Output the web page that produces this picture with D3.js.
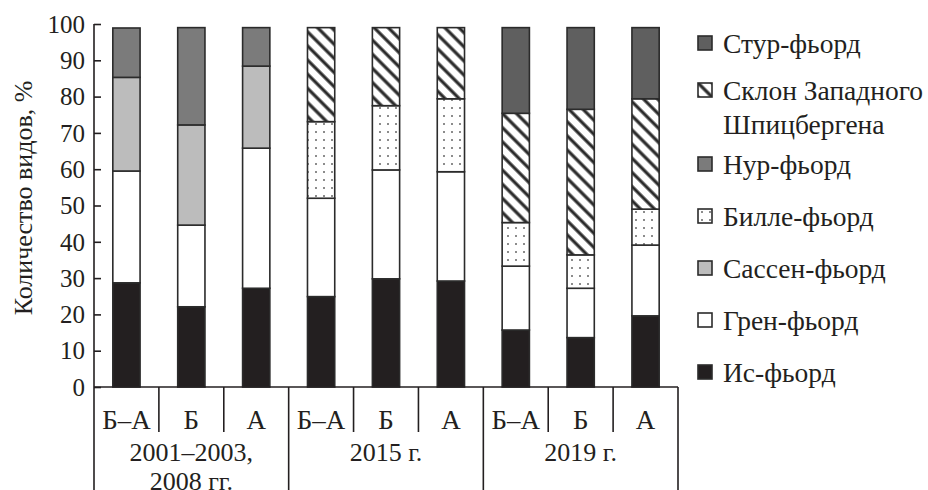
<!DOCTYPE html>
<html>
<head>
<meta charset="UTF-8">
<style>
  body { margin: 0; background: #fff; }
  svg text { font-family: "Liberation Serif", "Times New Roman", serif; fill: #231f20; }
</style>
</head>
<body>
<svg width="928" height="490"></svg>
<script src="https://cdn.jsdelivr.net/npm/d3@7"></script>
<script>

var periods = [["2001–2003,", "2008 гг."], ["2015 г."], ["2019 г."]];
var subgroups = ["Б–А", "Б", "А"];

var series = ["Ис-фьорд", "Грен-фьорд", "Сассен-фьорд", "Билле-фьорд",
              "Нур-фьорд", "Склон Западного Шпицбергена", "Стур-фьорд"];

var isFjord     = [28.7, 22.1, 27.2, 24.9, 29.8, 29.2, 15.7, 13.6, 19.6];
var grenFjord   = [30.8, 22.5, 38.6, 27.1, 30.0, 30.1, 17.6, 13.6, 19.5];
var sassenFjord = [25.8, 27.6, 22.6, 0, 0, 0, 0, 0, 0];
var billeFjord  = [0, 0, 0, 21.1, 17.7, 20.1, 12.0, 9.2, 9.9];
var nurFjord    = [13.6, 26.8, 10.6, 0, 0, 0, 0, 0, 0];
var sklon       = [0, 0, 0, 25.9, 21.5, 19.6, 30.1, 40.1, 30.4];
var sturFjord   = [0, 0, 0, 0, 0, 0, 23.6, 22.5, 19.6];

var yTicks = [0, 10, 20, 30, 40, 50, 60, 70, 80, 90, 100];

var values = [isFjord, grenFjord, sassenFjord, billeFjord, nurFjord, sklon, sturFjord];

var svg = d3.select("svg"),
    plotLeft = 94, plotRight = 678, plotTop = 24, plotBottom = 387;

var ink = "#231f20";
var fills = ["#231f20", "#ffffff", "#bcbcbc", "url(#dots)", "#7b7b7b", "url(#hatch)", "#5f5f5f"];

// patterns
var defs = svg.append("defs");
var hatch = defs.append("pattern")
    .attr("id", "hatch")
    .attr("patternUnits", "userSpaceOnUse")
    .attr("width", 10).attr("height", 10)
    .attr("patternTransform", "rotate(45)");
hatch.append("rect").attr("width", 10).attr("height", 10).attr("fill", "#fff");
hatch.append("line").attr("x1", 0).attr("x2", 10).attr("y1", 5).attr("y2", 5)
    .attr("stroke", "#2a2a2a").attr("stroke-width", 3.2);

var dots = defs.append("pattern")
    .attr("id", "dots")
    .attr("patternUnits", "userSpaceOnUse")
    .attr("width", 16).attr("height", 16);
dots.append("rect").attr("width", 16).attr("height", 16).attr("fill", "#fff");
[[4, 4], [12, 4], [4, 12], [12, 12]].forEach(function(p) {
  dots.append("circle").attr("cx", p[0]).attr("cy", p[1]).attr("r", 1).attr("fill", "#666");
});

// columns
var cols = [];
periods.forEach(function(p, i) {
  subgroups.forEach(function(s, j) { cols.push({ id: i + "-" + j, period: i, label: s }); });
});

var rows = cols.map(function(c, k) {
  var r = { id: c.id };
  series.forEach(function(name, s) { r[name] = values[s][k]; });
  return r;
});

var x = d3.scaleBand().domain(cols.map(function(c) { return c.id; })).range([plotLeft, plotRight]).padding(0);
var y = d3.scaleLinear().domain([0, 100]).range([plotBottom, plotTop]);
var barW = x.bandwidth() * 0.42;

var stacked = d3.stack().keys(series)(rows);

svg.append("g")
  .selectAll("g")
  .data(stacked)
  .enter().append("g")
    .attr("fill", function(d, i) { return fills[i]; })
  .selectAll("rect")
  .data(function(d) { return d.filter(function(e) { return e[1] - e[0] > 0; }); })
  .enter().append("rect")
    .attr("x", function(d) { return x(d.data.id) + (x.bandwidth() - barW) / 2; })
    .attr("y", function(d) { return y(d[1]); })
    .attr("width", barW)
    .attr("height", function(d) { return y(d[0]) - y(d[1]); })
    .attr("stroke", "#2b2b2b")
    .attr("stroke-width", 1.6);

// y axis
var yAxis = svg.append("g")
    .attr("transform", "translate(" + plotLeft + ",0)")
    .call(d3.axisRight(y).tickValues(yTicks).tickSize(7).tickFormat(""));
yAxis.select(".domain").attr("d", "M0," + y(100) + "V" + plotBottom).attr("stroke", ink).attr("stroke-width", 1.6);
yAxis.selectAll(".tick line").attr("stroke", ink).attr("stroke-width", 1.6);

svg.append("g").selectAll("text")
  .data(yTicks)
  .enter().append("text")
    .attr("x", plotLeft - 9)
    .attr("y", function(d) { return y(d); })
    .attr("dy", "0.35em")
    .attr("text-anchor", "end")
    .style("font-size", "25px")
    .text(function(d) { return d; });

svg.append("text")
    .attr("transform", "translate(32,198) rotate(-90)")
    .attr("text-anchor", "middle")
    .style("font-size", "26px")
    .text("Количество видов, %");

// bottom table
var grid = svg.append("g").attr("stroke", ink).attr("stroke-width", 1.6);
grid.append("line").attr("x1", plotLeft).attr("x2", plotRight).attr("y1", plotBottom).attr("y2", plotBottom);
cols.forEach(function(c, k) {
  var xl = x(c.id);
  grid.append("line").attr("x1", xl).attr("x2", xl).attr("y1", plotBottom).attr("y2", k % 3 === 0 ? 490 : 432);
});
grid.append("line").attr("x1", plotRight).attr("x2", plotRight).attr("y1", plotBottom).attr("y2", 490);

svg.append("g").selectAll("text")
  .data(cols)
  .enter().append("text")
    .attr("x", function(d) { return x(d.id) + x.bandwidth() / 2; })
    .attr("y", 429)
    .attr("text-anchor", "middle")
    .style("font-size", "27px")
    .text(function(d) { return d.label; });

periods.forEach(function(p, i) {
  var cx = x(i + "-1") + x.bandwidth() / 2;
  p.forEach(function(line, l) {
    svg.append("text")
      .attr("x", cx)
      .attr("y", 461 + l * 29)
      .attr("text-anchor", "middle")
      .style("font-size", "26px")
      .text(line);
  });
});

// legend
var legendItems = series.slice().reverse();
var legendFills = fills.slice().reverse();
var legendLines = { "Склон Западного Шпицбергена": ["Склон Западного", "Шпицбергена"] };
var legendY = [], cy = 43;
legendItems.forEach(function(d) {
  var n = legendLines[d] ? legendLines[d].length : 1;
  legendY.push(cy - (n - 1) * 5);
  cy += 52 + (n - 1) * 17;
});

var lg = svg.append("g").selectAll("g")
  .data(legendItems)
  .enter().append("g")
    .attr("transform", function(d, i) { return "translate(698," + legendY[i] + ")"; });

lg.append("rect")
    .attr("x", 0).attr("y", -7)
    .attr("width", 14).attr("height", 14)
    .attr("fill", function(d, i) { return legendFills[i]; })
    .attr("stroke", "#2b2b2b")
    .attr("stroke-width", 1.6);

lg.each(function(d) {
  var lines = legendLines[d] || [d];
  var g = d3.select(this);
  lines.forEach(function(line, l) {
    g.append("text")
      .attr("x", 25)
      .attr("y", l * 34)
      .attr("dy", "0.35em")
      .style("font-size", "27.5px")
      .text(line);
  });
});

</script>
</body>
</html>
